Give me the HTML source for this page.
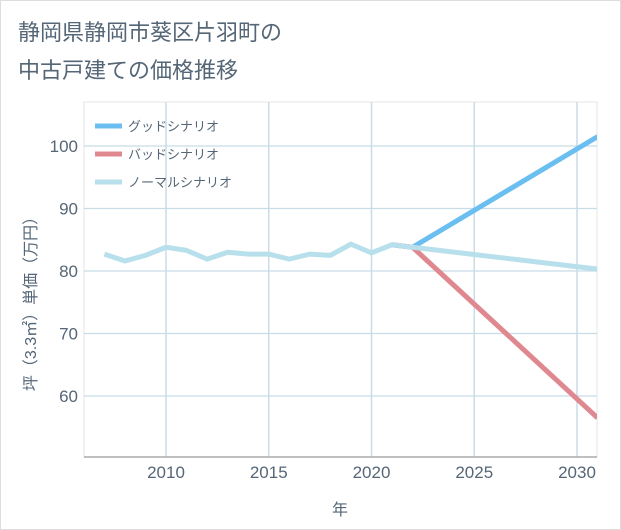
<!DOCTYPE html>
<html><head><meta charset="utf-8"><style>
body{margin:0;background:#fff;font-family:"Liberation Sans","Noto Sans CJK JP",sans-serif;}
#wrap{position:relative;width:619px;height:528px;border:1px solid #ddd;background:#fff;}
</style></head><body>
<div id="wrap">
<svg id="chart" width="621" height="530" style="position:absolute;left:-1px;top:-1px"></svg>
</div>
<script>
const years=[2007,2008,2009,2010,2011,2012,2013,2014,2015,2016,2017,2018,2019,2020,2021,2022,2031];
const normal=[82.7,81.6,82.5,83.8,83.3,81.9,83.0,82.7,82.7,81.9,82.7,82.5,84.3,82.9,84.2,83.8,80.3];
const goodYears=[2021,2022,2031];
const good=[84.2,83.8,101.5];
const badYears=[2021,2022,2031];
const bad=[84.2,83.8,56.5];
const xTicks=[2010,2015,2020,2025,2030];
const yTicks=[60,70,80,90,100];
const legendLabels=["グッドシナリオ","バッドシナリオ","ノーマルシナリオ"];
const legendColors=["#6bbef0","#e08890","#b8e0ec"];

const NS="http://www.w3.org/2000/svg";
const svg=document.getElementById('chart');
const L=84,R=597,T=102,B=457;
const x=v=>166+(v-2010)*20.55;
const y=v=>271-(v-80)*6.25;
function mk(tag,attrs,parent){const e=document.createElementNS(NS,tag);for(const k in attrs)e.setAttribute(k,attrs[k]);(parent||svg).appendChild(e);return e;}

const title=mk('text',{x:18,y:40,'font-size':22,fill:'#556677'});


title.textContent='静岡県静岡市葵区片羽町の';
const title2=mk('text',{x:18,y:78,'font-size':22,fill:'#556677'});


title2.textContent='中古戸建ての価格推移';

const plot=mk('rect',{x:L,y:T,width:R-L,height:B-T,fill:'#fff',stroke:'#e4e4e4'});



xTicks.forEach(t=>{
  const g=mk('line',{x1:x(t),x2:x(t),y1:T,y2:B,stroke:'#c8dce8','stroke-width':1.5});
  
  
});
yTicks.forEach(t=>{
  const g=mk('line',{x1:L,x2:R,y1:y(t),y2:y(t),stroke:'#c8dce8','stroke-width':1.2});
  
  
});
const ax=mk('line',{x1:L,x2:R,y1:B,y2:B,stroke:'#aaaaaa','stroke-width':1.5});



xTicks.forEach(t=>{const e=mk('text',{x:x(t),y:478,'font-size':17,fill:'#556677','text-anchor':'middle'});


e.textContent=t;});
yTicks.forEach(t=>{const e=mk('text',{x:78,y:y(t)+6,'font-size':17,fill:'#556677','text-anchor':'end'});


e.textContent=t;});
const xt=mk('text',{x:340,y:515,'font-size':16,fill:'#556677','text-anchor':'middle'});


xt.textContent='年';
const yt=mk('text',{x:0,y:0,'font-size':16,fill:'#556677','text-anchor':'middle',transform:'translate(36,300) rotate(-90)'});


yt.textContent='坪（3.3㎡）単価（万円）';

const clip=mk('clipPath',{id:'c'});mk('rect',{x:L,y:T,width:R-L,height:B-T},clip);
function line(xs,vs,color,name){
  const p=mk('polyline',{points:xs.map((v,i)=>x(v)+','+y(vs[i])).join(' '),fill:'none',stroke:color,'stroke-width':5,'stroke-linejoin':'round','clip-path':'url(#c)'});
  
  
}
line(goodYears,good,legendColors[0],'good-scenario-line');
line(badYears,bad,legendColors[1],'bad-scenario-line');
line(years,normal,legendColors[2],'normal-scenario-line');

legendLabels.forEach((lab,i)=>{
  const yy=126+i*28;
  const l=mk('line',{x1:95,x2:122,y1:yy,y2:yy,stroke:legendColors[i],'stroke-width':5});
  
  
  const t=mk('text',{x:128,y:yy+5,'font-size':13,fill:'#556677'});
  
  
  t.textContent=lab;
});
</script>
</body></html>
